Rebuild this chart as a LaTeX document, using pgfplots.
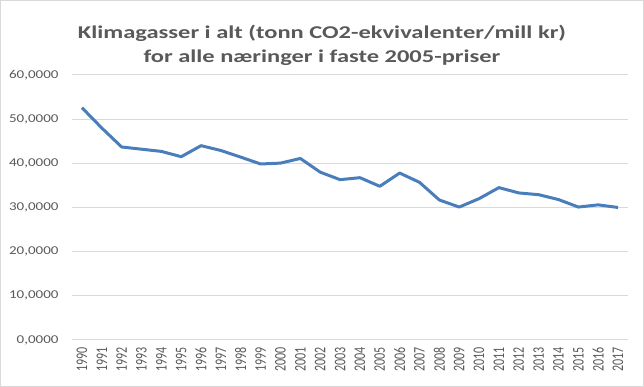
\documentclass[border=0pt]{standalone}
\usepackage{pgfplots}
\pgfplotsset{compat=1.18}
\usepackage{fontspec}
\setmainfont{Carlito}
\newfontfamily\titlefont[FakeStretch=1.36]{Carlito}
\newfontfamily\tickfont[FakeStretch=1.25]{Carlito}
\definecolor{txt}{HTML}{595959}
\definecolor{grid}{HTML}{D9D9D9}
\definecolor{line}{HTML}{4A7EBB}
\begin{document}
\begin{tikzpicture}[x=1pt,y=1pt]
\useasboundingbox (0,0) rectangle (644,387);
\draw[color=grid,line width=1.2pt] (0.6,0.6) rectangle (643.4,386.4);
\node[text=txt,font=\titlefont\fontsize{18}{24}\selectfont\bfseries,align=center] at (322,342) {Klimagasser i alt (tonn CO2-ekvivalenter/mill kr)\\for alle næringer i faste 2005-priser};
\begin{axis}[
  at={(72pt,47pt)}, anchor=south west,
  scale only axis, width=556pt, height=265pt,
  xmin=1989.5, xmax=2017.5, ymin=0, ymax=60,
  xtick={1990,...,2017},
  xticklabel={\scalebox{1}[1.35]{\pgfmathprintnumber[1000 sep={},assume math mode=true]{\tick}}},
  x tick label style={rotate=90,anchor=east,font=\fontsize{12}{12}\selectfont,text=txt},
  ytick={0,10,...,60},
  y tick label style={font=\tickfont\fontsize{12}{12}\selectfont,text=txt},
  yticklabel style={/pgf/number format/.cd,fixed,fixed zerofill,precision=4,use comma,1000 sep={},assume math mode=true},
  ymajorgrids, major grid style={color=grid,line width=1pt},
  axis line style={draw=none},
  major tick length=0pt,
  xticklabel shift=4pt,
  yticklabel shift=10pt,
  clip=false,
]
\addplot[draw=grid,line width=1pt,forget plot] coordinates {(1989.5,0) (2017.5,0)};
\addplot[color=line,line width=3pt,line join=round] coordinates {
(1990,52.6) (1991,48.0) (1992,43.7) (1993,43.2) (1994,42.7) (1995,41.5) (1996,44.0) (1997,42.9) (1998,41.4) (1999,39.85)
(2000,40.05) (2001,41.1) (2002,38.0) (2003,36.3) (2004,36.75) (2005,34.8) (2006,37.8) (2007,35.7) (2008,31.7) (2009,30.1)
(2010,32.0) (2011,34.5) (2012,33.3) (2013,32.9) (2014,31.8) (2015,30.1) (2016,30.6) (2017,30.0)
};
\end{axis}
\end{tikzpicture}
\end{document}
